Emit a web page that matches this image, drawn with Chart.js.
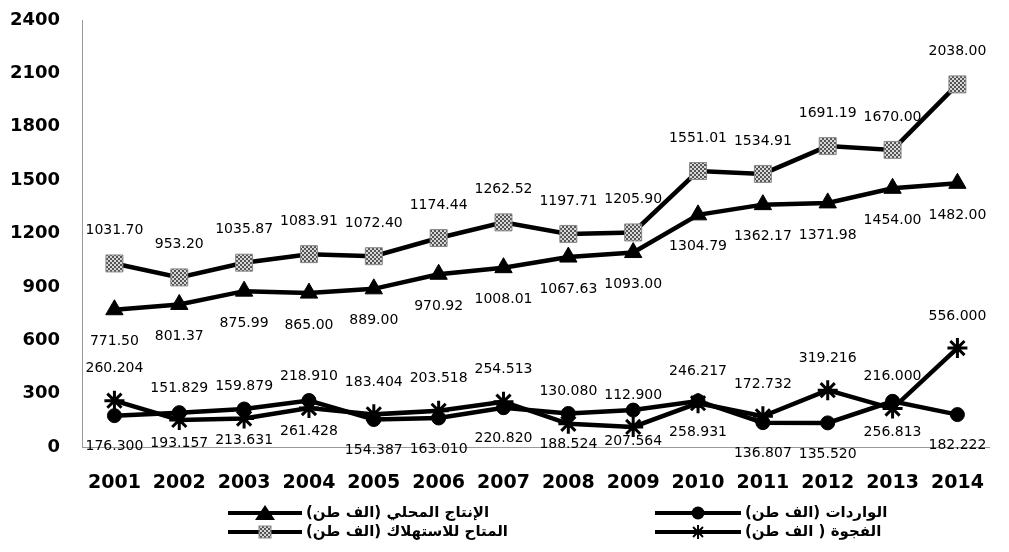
<!DOCTYPE html>
<html><head><meta charset="utf-8">
<script src="https://cdn.jsdelivr.net/npm/chart.js@4"></script>
<style>
html,body{margin:0;padding:0;background:#fff;}
#wrap{position:relative;width:1009px;height:552px;overflow:hidden;}
#c{position:absolute;left:0;top:0;}
.lg{position:absolute;display:flex;align-items:center;height:19px;}
.lg span{direction:rtl;font:bold 15px "DejaVu Sans",sans-serif;color:#000;white-space:nowrap;margin-left:4px;line-height:19px;}
.lg svg{display:block;}
</style></head><body>
<div id="wrap"><canvas id="c" width="1009" height="552"></canvas>
<div id="legend"></div></div>
<script>
const years = ['2001','2002','2003','2004','2005','2006','2007','2008','2009','2010','2011','2012','2013','2014'];
const production = [771.50, 801.37, 875.99, 865.00, 889.00, 970.92, 1008.01, 1067.63, 1093.00, 1304.79, 1362.17, 1371.98, 1454.00, 1482.00];
const available = [1031.70, 953.20, 1035.87, 1083.91, 1072.40, 1174.44, 1262.52, 1197.71, 1205.90, 1551.01, 1534.91, 1691.19, 1670.00, 2038.00];
const imports = [176.300, 193.157, 213.631, 261.428, 154.387, 163.010, 220.820, 188.524, 207.564, 258.931, 136.807, 135.520, 256.813, 182.222];
const gap = [260.204, 151.829, 159.879, 218.910, 183.404, 203.518, 254.513, 130.080, 112.900, 246.217, 172.732, 319.216, 216.000, 556.000];
const yMin = 0, yMax = 2400, yStep = 300;
const names = {
  production: 'الإنتاج المحلي (الف طن)',
  available: 'المتاح للاستهلاك (الف طن)',
  imports: 'الواردات (الف طن)',
  gap: 'الفجوة ( الف طن)'
};

// checker pattern for the square markers
const pc = document.createElement('canvas'); pc.width = 4; pc.height = 4;
const pctx = pc.getContext('2d');
pctx.fillStyle = '#d8d8d8'; pctx.fillRect(0,0,4,4);
pctx.fillStyle = '#555'; pctx.fillRect(0,0,2,2); pctx.fillRect(2,2,2,2);
const ctx = document.getElementById('c').getContext('2d');
const pattern = ctx.createPattern(pc, 'repeat');

const labelPlugin = {
  id: 'vals',
  afterDatasetsDraw(chart) {
    const c = chart.ctx;
    c.save();
    c.font = '14px "DejaVu Sans", sans-serif';
    c.fillStyle = '#000';
    c.textAlign = 'center';
    c.textBaseline = 'middle';
    chart.data.datasets.forEach((ds, i) => {
      const meta = chart.getDatasetMeta(i);
      meta.data.forEach((p, j) => {
        c.fillText(ds.data[j].toFixed(ds.decimals), p.x, p.y + ds.labelOffset);
      });
    });
    c.restore();
  }
};

const base = {borderColor:'#000', borderWidth:4.5, tension:0, fill:false, clip:false};
new Chart(ctx, {
  type: 'line',
  data: {
    labels: years,
    datasets: [
      Object.assign({}, base, {label: names.available, data: available, pointStyle:'rect', pointRadius:12, pointBackgroundColor: pattern, pointBorderColor:'#888', pointBorderWidth:1, decimals:2, labelOffset:-33}),
      Object.assign({}, base, {label: names.production, data: production, pointStyle:'triangle', pointRadius:10, pointBackgroundColor:'#000', pointBorderColor:'#000', pointBorderWidth:1, decimals:2, labelOffset:32}),
      Object.assign({}, base, {label: names.gap, data: gap, pointStyle:'star', pointRadius:10, pointBackgroundColor:'#000', pointBorderColor:'#000', pointBorderWidth:3, decimals:3, labelOffset:-32}),
      Object.assign({}, base, {label: names.imports, data: imports, pointStyle:'circle', pointRadius:7, pointBackgroundColor:'#000', pointBorderColor:'#000', pointBorderWidth:1, decimals:3, labelOffset:31})
    ]
  },
  options: {
    responsive: false,
    animation: false,
    layout: {autoPadding: false, padding: {left: 10, right: 4, top: 20, bottom: 45}},
    plugins: {legend: {display:false}, tooltip: {enabled:false}},
    scales: {
      x: {
        offset: true,
        grid: {display:false, drawTicks:false},
        border: {display:true, color:'#999', width:1},
        ticks: {color:'#000', padding:25, font:{family:'"DejaVu Sans"', weight:'bold', size:19}, maxRotation:0, autoSkip:false},
        afterFit(s){ s.height = 60; }
      },
      y: {
        min: yMin, max: yMax,
        grid: {display:false, drawTicks:false},
        border: {display:true, color:'#999', width:1},
        ticks: {stepSize: yStep, color:'#000', padding:22, font:{family:'"DejaVu Sans"', weight:'bold', size:18}, callback: v => String(v)},
        afterFit(s){ s.width = 72; s.paddingTop = 0; s.paddingBottom = 0; }
      }
    }
  },
  plugins: [labelPlugin]
});

// legend
function sym(kind, w) {
  const cx = w/2;
  let m = '';
  if (kind === 'triangle') m = `<polygon points="${cx},0 ${cx-10},15 ${cx+10},15" fill="#000"/>`;
  if (kind === 'circle') m = `<circle cx="${cx}" cy="8" r="6.5" fill="#000"/>`;
  if (kind === 'star') m = `<g stroke="#000" stroke-width="2"><line x1="${cx-7}" y1="8" x2="${cx+7}" y2="8"/><line x1="${cx}" y1="1" x2="${cx}" y2="15"/><line x1="${cx-5}" y1="3" x2="${cx+5}" y2="13"/><line x1="${cx-5}" y1="13" x2="${cx+5}" y2="3"/></g>`;
  if (kind === 'rect') m = `<defs><pattern id="pt" width="4" height="4" patternUnits="userSpaceOnUse"><rect width="4" height="4" fill="#d8d8d8"/><rect width="2" height="2" fill="#555"/><rect x="2" y="2" width="2" height="2" fill="#555"/></pattern></defs><rect x="${cx-6}" y="2" width="12" height="12" fill="url(#pt)" stroke="#888" stroke-width="1"/>`;
  return `<svg width="${w}" height="16"><line x1="0" y1="8" x2="${w}" y2="8" stroke="#000" stroke-width="4"/>${m}</svg>`;
}
const items = [
  {x:228, y:503, w:74, kind:'triangle', text:names.production},
  {x:228, y:522, w:74, kind:'rect', text:names.available},
  {x:655, y:503, w:86, kind:'circle', text:names.imports},
  {x:655, y:522, w:86, kind:'star', text:names.gap}
];
const lg = document.getElementById('legend');
items.forEach(it => {
  const d = document.createElement('div');
  d.className = 'lg';
  d.style.left = it.x + 'px'; d.style.top = it.y + 'px';
  d.innerHTML = sym(it.kind, it.w) + `<span>${it.text}</span>`;
  lg.appendChild(d);
});
</script>
</body></html>
